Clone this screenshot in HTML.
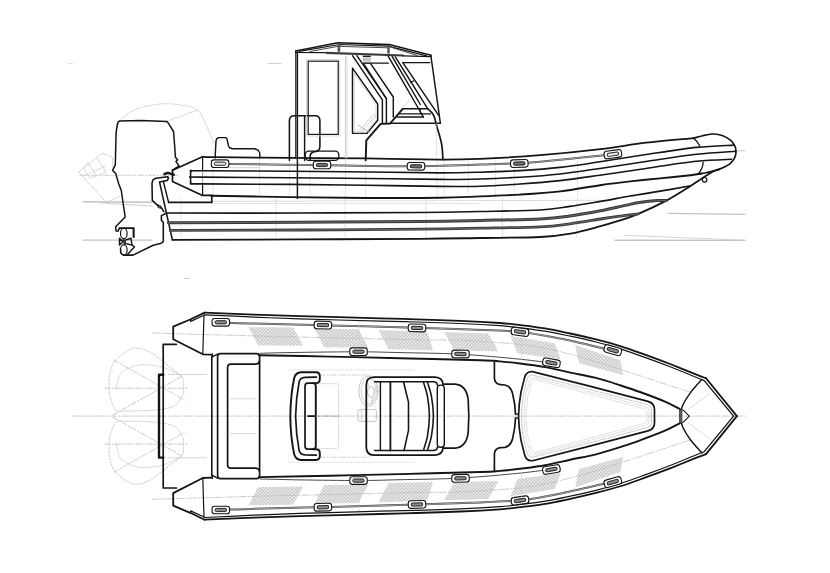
<!DOCTYPE html>
<html><head><meta charset="utf-8"><style>
html,body{margin:0;padding:0;background:#fff;}
body{width:830px;height:573px;overflow:hidden;font-family:"Liberation Sans",sans-serif;}
svg{display:block}
svg path, svg ellipse, svg circle{fill:none;stroke-linecap:round;stroke-linejoin:round}
</style></head><body>
<svg width="830" height="573" viewBox="0 0 830 573">
<rect width="830" height="573" fill="#fff" stroke="none"/>
<path d="M83.0,201.8 L152.0,202.2" stroke="#c4c4c4" stroke-width="1.6" />
<path d="M100.0,203.0 L152.0,206.0" stroke="#cfcfcf" stroke-width="1.0" />
<path d="M83.0,240.2 L152.0,240.2" stroke="#c4c4c4" stroke-width="1.2" />
<path d="M668.0,213.3 L745.0,214.4" stroke="#c4c4c4" stroke-width="1.2" />
<path d="M615.0,240.2 L745.0,240.4" stroke="#c4c4c4" stroke-width="1.4" />
<path d="M624.0,235.3 L745.0,240.2" stroke="#cfcfcf" stroke-width="0.9" />
<path d="M737.6,150.8 L744.6,150.8" stroke="#c4c4c4" stroke-width="1.0" />
<path d="M80.0,175.3 L180.0,175.3" stroke="#c8c8c8" stroke-width="0.9" stroke-dasharray="6 2 1.5 2"/>
<path d="M120.2,120.1 C122.9,118.2 129.6,111.7 136.3,109.0 C143.0,106.3 153.0,104.7 160.4,104.0 C167.8,103.3 174.3,104.0 180.5,105.0 C186.7,106.0 193.2,106.5 197.5,110.0 C201.8,113.5 203.8,120.3 206.6,126.0 C209.4,131.7 213.3,141.2 214.6,144.2" stroke="#c4c4c4" stroke-width="0.9" stroke-dasharray="1.2 1.6"/>
<path d="M167.4,121.0 L197.5,110.1" stroke="#c4c4c4" stroke-width="0.9" stroke-dasharray="1.2 1.6"/>
<path d="M79.0,172.3 L106.2,202.4 L120.2,196.4" stroke="#c4c4c4" stroke-width="0.9" stroke-dasharray="1.2 1.6"/>
<path d="M79.0,172.3 L98.1,156.3 L102.1,153.2 L112.2,157.3 L113.0,168.0" stroke="#c4c4c4" stroke-width="0.9" stroke-dasharray="1.2 1.6"/>
<path d="M84.0,176.0 L106.0,166.0" stroke="#cfcfcf" stroke-width="0.8" />
<path d="M88.0,163.0 L97.0,176.0 L90.0,178.0 L83.0,168.0 L88.0,163.0" stroke="#cfcfcf" stroke-width="0.8" />
<path d="M97.0,158.0 L106.0,172.0 L99.0,175.0" stroke="#cfcfcf" stroke-width="0.8" />
<path d="M213.0,160.0 L213.0,197.0" stroke="#cccccc" stroke-width="0.7" stroke-dasharray="1.2 1.6"/>
<path d="M259.5,160.0 L259.5,197.0" stroke="#cccccc" stroke-width="0.7" stroke-dasharray="1.2 1.6"/>
<path d="M289.5,160.0 L289.5,197.0" stroke="#cccccc" stroke-width="0.7" stroke-dasharray="1.2 1.6"/>
<path d="M310.0,160.0 L310.0,197.0" stroke="#cccccc" stroke-width="0.7" stroke-dasharray="1.2 1.6"/>
<path d="M345.5,160.0 L345.5,197.0" stroke="#cccccc" stroke-width="0.7" stroke-dasharray="1.2 1.6"/>
<path d="M365.5,160.0 L365.5,197.0" stroke="#cccccc" stroke-width="0.7" stroke-dasharray="1.2 1.6"/>
<path d="M437.0,160.0 L437.0,197.0" stroke="#cccccc" stroke-width="0.7" stroke-dasharray="1.2 1.6"/>
<path d="M444.2,160.0 L444.2,197.0" stroke="#cccccc" stroke-width="0.7" stroke-dasharray="1.2 1.6"/>
<path d="M468.3,160.0 L468.3,197.0" stroke="#cccccc" stroke-width="0.7" stroke-dasharray="1.2 1.6"/>
<path d="M495.4,160.0 L495.4,197.0" stroke="#cccccc" stroke-width="0.7" stroke-dasharray="1.2 1.6"/>
<path d="M514.5,160.0 L514.5,197.0" stroke="#cccccc" stroke-width="0.7" stroke-dasharray="1.2 1.6"/>
<path d="M577.5,160.0 L577.5,197.0" stroke="#cccccc" stroke-width="0.7" stroke-dasharray="1.2 1.6"/>
<path d="M181.0,199.0 L181.0,238.0" stroke="#cccccc" stroke-width="0.7" stroke-dasharray="1.2 1.6"/>
<path d="M276.0,199.0 L276.0,238.0" stroke="#cccccc" stroke-width="0.7" stroke-dasharray="1.2 1.6"/>
<path d="M345.0,199.0 L345.0,238.0" stroke="#cccccc" stroke-width="0.7" stroke-dasharray="1.2 1.6"/>
<path d="M426.0,199.0 L426.0,238.0" stroke="#cccccc" stroke-width="0.7" stroke-dasharray="1.2 1.6"/>
<path d="M502.5,199.0 L502.5,238.0" stroke="#cccccc" stroke-width="0.7" stroke-dasharray="1.2 1.6"/>
<path d="M577.0,199.0 L577.0,238.0" stroke="#cccccc" stroke-width="0.7" stroke-dasharray="1.2 1.6"/>
<path d="M213.0,201.3 L600.0,200.3" stroke="#c6c6c6" stroke-width="0.8" stroke-dasharray="1.4 1.4"/>
<path d="M213.0,203.5 L480.0,203.5" stroke="#d0d0d0" stroke-width="0.7" stroke-dasharray="1.4 1.4"/>
<path d="M117.5,124.0 L118.2,121.8 L119.6,121.0 L141.5,120.5 L166.6,121.4 L168.5,123.3 L173.5,131.5 L174.6,145.0 L175.4,157.2 L177.6,159.7 L176.0,161.6 L179.1,166.0 L172.6,170.1" stroke="#151515" stroke-width="1.5" />
<path d="M117.5,124.0 L116.1,132.1 L115.3,164.8 L112.6,170.4 L115.7,173.6 L118.8,184.0 L121.3,190.5 L123.3,204.5 L125.2,217.0 L115.6,226.7 L116.1,231.0 L118.0,231.2 L119.5,228.1" stroke="#151515" stroke-width="1.5" />
<path d="M119.5,228.1 L133.9,228.1 L133.9,237.2" stroke="#151515" stroke-width="1.56" />
<path d="M133.2,228.5 L133.2,237.2" stroke="#151515" stroke-width="1.2" />
<ellipse cx="123.8" cy="233.4" rx="3.3" ry="5.2" stroke="#151515" stroke-width="1.2"/>
<ellipse cx="123.8" cy="249.9" rx="3.3" ry="5.2" stroke="#151515" stroke-width="1.2"/>
<path d="M119.5,238.3 L122.9,241.7 L119.5,245.0 L119.5,238.3" stroke="#151515" stroke-width="1.44" />
<path d="M124.8,240.2 L131.0,238.3 L132.0,245.0 L125.7,243.6 L124.8,240.2" stroke="#151515" stroke-width="1.44" />
<path d="M123.0,238.6 L124.6,244.6" stroke="#151515" stroke-width="1.2" />
<path d="M132.0,245.0 L134.4,246.9 L127.7,254.2" stroke="#151515" stroke-width="1.44" />
<path d="M120.5,249.0 C120.6,249.7 120.5,252.2 121.0,253.2 C121.5,254.2 123.3,254.8 123.8,255.1" stroke="#151515" stroke-width="1.44" />
<path d="M123.8,255.1 L133.0,255.1 L153.2,245.2 L160.4,243.6 L162.6,242.4 L163.3,240.7 L163.3,222.3 L161.4,220.4 L161.4,215.6 L165.2,213.7" stroke="#151515" stroke-width="1.56" />
<path d="M167.5,176.7 L156.0,178.2 L153.2,179.6 L152.0,183.0 L152.3,200.4 L156.5,204.4 L160.5,206.4 L163.8,211.6" stroke="#151515" stroke-width="1.56" />
<path d="M167.5,176.7 L168.6,178.2 L167.2,180.5 L159.5,181.9 L172.4,239.8" stroke="#151515" stroke-width="1.56" />
<path d="M163.3,181.4 L168.6,202.4" stroke="#151515" stroke-width="1.44" />
<path d="M156.8,204.5 L158.5,207.5 L161.5,208.3" stroke="#151515" stroke-width="1.2" />
<path d="M164.5,174.0 L168.0,172.8 L173.8,174.7" stroke="#151515" stroke-width="2.4" />
<path d="M202.5,156.8 C204.6,156.9 200.4,157.0 215.0,157.2 C229.6,157.4 264.8,157.6 290.0,157.8 C315.2,158.0 341.0,158.1 366.0,158.4 C391.0,158.7 421.0,159.5 440.0,159.6 C459.0,159.7 463.3,159.5 480.0,158.8 C496.7,158.1 520.1,156.8 540.2,155.2 C560.3,153.6 582.9,151.3 600.5,149.2 C618.1,147.1 630.5,144.5 646.0,142.7 C661.5,140.8 685.5,138.9 693.4,138.1" stroke="#151515" stroke-width="1.8" />
<path d="M172.5,170.2 L202.5,156.8" stroke="#151515" stroke-width="1.68" />
<path d="M172.5,170.2 L172.5,181.6 L202.0,195.2" stroke="#151515" stroke-width="1.68" />
<path d="M202.6,156.8 L202.6,170.4" stroke="#151515" stroke-width="1.2" />
<path d="M202.6,183.9 L202.6,195.2" stroke="#151515" stroke-width="1.2" />
<path d="M202.6,170.4 L202.6,183.9" stroke="#9a9a9a" stroke-width="0.9" />
<path d="M202.0,195.3 L211.8,195.3 L211.8,202.4 L168.6,202.4" stroke="#151515" stroke-width="1.68" />
<path d="M228.0,164.0 C242.2,164.2 283.2,164.6 313.0,165.0 C342.8,165.4 379.2,166.4 407.0,166.3 C434.8,166.2 462.8,165.1 480.0,164.6 C497.2,164.1 500.0,164.1 510.0,163.6 C520.0,163.1 524.3,163.1 540.0,161.7 C555.7,160.3 593.3,156.3 604.0,155.2" stroke="#4a4a4a" stroke-width="2.0" />
<path d="M228.0,164.0 C242.2,164.2 283.2,164.6 313.0,165.0 C342.8,165.4 379.2,166.4 407.0,166.3 C434.8,166.2 462.8,165.1 480.0,164.6 C497.2,164.1 500.0,164.1 510.0,163.6 C520.0,163.1 524.3,163.1 540.0,161.7 C555.7,160.3 593.3,156.3 604.0,155.2" stroke="#c4c4c4" stroke-width="0.7" />
<path d="M190.6,172.0 C190.7,171.8 190.7,171.2 190.9,171.0 C191.1,170.8 190.5,170.7 192.0,170.6 C193.5,170.5 183.7,170.6 200.0,170.7 C216.3,170.8 262.3,171.0 290.0,171.2 C317.7,171.4 341.0,171.7 366.0,172.0 C391.0,172.3 421.0,172.9 440.0,172.9 C459.0,172.9 466.7,172.6 480.0,172.2 C493.3,171.8 506.7,171.4 520.0,170.6 C533.3,169.8 546.7,168.9 560.0,167.4 C573.3,165.9 585.7,163.9 600.0,161.8 C614.3,159.7 629.9,157.0 646.0,154.6 C662.1,152.2 681.8,149.0 696.4,147.4 C711.0,145.8 727.6,145.5 733.8,145.1" stroke="#151515" stroke-width="1.56" />
<path d="M190.6,176.9 C192.2,176.9 183.4,176.9 200.0,177.1 C216.6,177.2 262.3,177.6 290.0,177.8 C317.7,178.0 341.0,178.2 366.0,178.5 C391.0,178.8 421.0,179.3 440.0,179.4 C459.0,179.5 466.7,179.4 480.0,179.0 C493.3,178.6 506.7,178.0 520.0,177.2 C533.3,176.4 546.7,175.5 560.0,174.0 C573.3,172.5 585.7,170.5 600.0,168.4 C614.3,166.3 629.9,163.8 646.0,161.4 C662.1,159.1 681.5,156.0 696.4,154.3 C711.3,152.6 729.1,151.7 735.6,151.2" stroke="#151515" stroke-width="1.56" />
<path d="M190.6,182.4 C190.7,182.6 190.7,183.2 190.9,183.4 C191.1,183.6 190.5,183.7 192.0,183.8 C193.5,183.9 183.7,183.8 200.0,183.9 C216.3,184.0 262.3,184.2 290.0,184.4 C317.7,184.6 341.0,185.0 366.0,185.3 C391.0,185.6 421.0,186.2 440.0,186.4 C459.0,186.6 466.7,186.6 480.0,186.2 C493.3,185.8 506.7,184.9 520.0,184.0 C533.3,183.1 546.7,182.1 560.0,180.6 C573.3,179.1 585.7,177.2 600.0,175.2 C614.3,173.2 629.9,170.7 646.0,168.4 C662.1,166.1 682.1,162.8 696.4,161.3 C710.6,159.8 725.6,159.5 731.5,159.2" stroke="#151515" stroke-width="1.56" />
<path d="M190.6,171.6 L190.6,182.8" stroke="#151515" stroke-width="1.56" />
<path d="M211.0,195.8 C224.2,196.0 264.2,196.7 290.0,197.1 C315.8,197.5 341.0,197.9 366.0,198.0 C391.0,198.1 421.0,198.1 440.0,197.8 C459.0,197.5 466.7,196.9 480.0,196.4 C493.3,195.9 506.6,195.4 520.0,194.6 C533.4,193.8 547.0,193.0 560.3,191.4 C573.6,189.8 588.4,186.9 600.0,185.2 C611.6,183.5 620.2,182.5 630.2,181.4 C640.2,180.3 650.0,179.4 660.0,178.4 C670.0,177.4 683.6,176.0 690.5,175.2 C697.4,174.4 699.7,173.7 701.5,173.4" stroke="#151515" stroke-width="1.92" />
<path d="M693.3,138.2 C694.9,137.8 699.2,136.4 702.7,135.7 C706.2,135.0 710.6,134.0 714.0,134.0 C717.4,134.0 720.1,134.7 722.8,135.7 C725.5,136.7 728.4,138.4 730.4,140.1 C732.4,141.8 733.8,143.8 734.7,145.7 C735.6,147.6 736.0,149.4 736.0,151.4 C736.0,153.4 735.6,155.7 734.7,157.7 C733.8,159.7 732.4,161.6 730.4,163.3 C728.4,165.0 725.5,166.4 722.8,167.7 C720.1,169.0 716.8,170.1 714.0,170.9 C711.2,171.8 708.5,172.3 706.0,172.8 C703.5,173.3 700.1,173.8 698.9,174.0" stroke="#151515" stroke-width="1.68" />
<path d="M693.3,138.2 C693.9,138.8 696.0,140.4 697.0,141.6 C698.0,142.8 699.2,144.9 699.6,145.6" stroke="#151515" stroke-width="1.32" />
<path d="M703.2,162.4 C703.1,163.1 702.8,165.3 702.4,166.6 C702.0,167.9 701.5,169.0 700.8,170.2 C700.1,171.4 698.8,173.4 698.4,174.0" stroke="#151515" stroke-width="1.32" />
<g transform="translate(220.1,163.7) rotate(0)"><rect x="-8.75" y="-3.8" width="17.5" height="7.6" rx="2.6" stroke="#151515" stroke-width="1.1" fill="#fff"/><rect x="-5.75" y="-1.5999999999999996" width="11.5" height="3.1999999999999993" rx="1.5" stroke="#262626" stroke-width="1.0" fill="#e4e4e4"/></g>
<g transform="translate(322.0,165.0) rotate(0)"><rect x="-8.75" y="-3.8" width="17.5" height="7.6" rx="2.6" stroke="#151515" stroke-width="1.1" fill="#fff"/><rect x="-5.75" y="-1.5999999999999996" width="11.5" height="3.1999999999999993" rx="1.5" stroke="#262626" stroke-width="1.0" fill="#6e6e6e"/></g>
<g transform="translate(416.0,166.3) rotate(0.5)"><rect x="-8.75" y="-3.8" width="17.5" height="7.6" rx="2.6" stroke="#151515" stroke-width="1.1" fill="#fff"/><rect x="-5.75" y="-1.5999999999999996" width="11.5" height="3.1999999999999993" rx="1.5" stroke="#262626" stroke-width="1.0" fill="#6e6e6e"/></g>
<g transform="translate(519.3,163.5) rotate(-2)"><rect x="-8.75" y="-3.8" width="17.5" height="7.6" rx="2.6" stroke="#151515" stroke-width="1.1" fill="#fff"/><rect x="-5.75" y="-1.5999999999999996" width="11.5" height="3.1999999999999993" rx="1.5" stroke="#262626" stroke-width="1.0" fill="#6e6e6e"/></g>
<g transform="translate(612.9,154.2) rotate(-8)"><rect x="-8.75" y="-3.8" width="17.5" height="7.6" rx="2.6" stroke="#151515" stroke-width="1.1" fill="#fff"/><rect x="-5.75" y="-1.5999999999999996" width="11.5" height="3.1999999999999993" rx="1.5" stroke="#262626" stroke-width="1.0" fill="#e4e4e4"/></g>
<path d="M172.4,239.8 C193.7,239.7 258.7,239.6 300.0,239.4 C341.3,239.2 390.0,239.0 420.0,238.8 C450.0,238.6 460.0,238.3 480.0,238.0 C500.0,237.7 525.1,237.7 540.2,237.0 C555.3,236.3 560.4,235.4 570.4,233.6 C580.4,231.8 592.2,228.4 600.5,226.2 C608.8,224.0 613.7,222.4 620.0,220.4 C626.3,218.4 630.6,217.2 638.3,213.9 C646.0,210.6 657.7,205.2 666.4,200.6 C675.1,195.9 684.6,189.7 690.5,186.0 C696.4,182.3 697.9,181.0 701.5,178.7 C705.1,176.4 709.1,173.6 712.1,172.0 C715.1,170.4 718.0,169.8 719.2,169.4" stroke="#151515" stroke-width="1.8" />
<path d="M166.2,213.0 C188.5,213.0 257.7,213.1 300.0,213.0 C342.3,212.9 390.0,212.8 420.0,212.5 C450.0,212.2 460.0,211.9 480.0,211.5 C500.0,211.1 525.2,210.8 540.2,210.0 C555.2,209.2 560.0,207.8 570.0,206.4 C580.0,205.0 590.5,203.1 600.5,201.4 C610.5,199.7 620.3,197.7 630.2,196.0 C640.1,194.3 650.1,192.9 660.0,191.2 C669.9,189.5 684.6,186.9 689.5,186.0" stroke="#151515" stroke-width="1.68" />
<path d="M168.4,222.8 C190.3,222.7 258.1,222.4 300.0,222.2 C341.9,222.0 390.0,221.7 420.0,221.4 C450.0,221.1 460.0,220.8 480.0,220.4 C500.0,220.0 525.0,219.7 540.0,219.0 C555.0,218.3 559.9,217.4 570.0,216.0 C580.1,214.6 590.5,212.7 600.5,210.8 C610.5,208.9 622.4,205.9 630.0,204.4 C637.6,202.9 641.6,202.2 646.3,201.6 C651.0,201.0 654.6,200.8 658.0,200.6 C661.4,200.4 665.0,200.6 666.4,200.6" stroke="#383838" stroke-width="3.0" />
<path d="M168.4,222.8 C190.3,222.7 258.1,222.4 300.0,222.2 C341.9,222.0 390.0,221.7 420.0,221.4 C450.0,221.1 460.0,220.8 480.0,220.4 C500.0,220.0 525.0,219.7 540.0,219.0 C555.0,218.3 559.9,217.4 570.0,216.0 C580.1,214.6 590.5,212.7 600.5,210.8 C610.5,208.9 622.4,205.9 630.0,204.4 C637.6,202.9 641.6,202.2 646.3,201.6 C651.0,201.0 654.6,200.8 658.0,200.6 C661.4,200.4 665.0,200.6 666.4,200.6" stroke="#777" stroke-width="0.7" />
<path d="M170.2,230.4 C191.8,230.3 258.4,230.2 300.0,230.0 C341.6,229.8 390.0,229.5 420.0,229.2 C450.0,228.9 460.0,228.6 480.0,228.2 C500.0,227.8 525.0,227.5 540.0,226.8 C555.0,226.1 559.9,225.1 570.0,223.8 C580.1,222.5 592.2,220.3 600.5,219.0 C608.8,217.7 613.7,217.0 620.0,216.2 C626.3,215.3 635.2,214.3 638.3,213.9" stroke="#383838" stroke-width="2.8" />
<path d="M170.2,230.4 C191.8,230.3 258.4,230.2 300.0,230.0 C341.6,229.8 390.0,229.5 420.0,229.2 C450.0,228.9 460.0,228.6 480.0,228.2 C500.0,227.8 525.0,227.5 540.0,226.8 C555.0,226.1 559.9,225.1 570.0,223.8 C580.1,222.5 592.2,220.3 600.5,219.0 C608.8,217.7 613.7,217.0 620.0,216.2 C626.3,215.3 635.2,214.3 638.3,213.9" stroke="#777" stroke-width="0.7" />
<circle cx="704.6" cy="179.8" r="2.3" stroke="#151515" stroke-width="1.2" fill="#fff"/>
<path d="M215.1,158.0 L216.0,141.0 L216.8,138.6 L218.6,137.6 L225.6,137.6 L227.0,138.8 L228.4,145.5 L229.6,147.8 L232.3,148.8 L254.5,148.8 L258.0,150.0 L259.8,153.0 L259.8,158.0" stroke="#151515" stroke-width="1.44" />
<path d="M289.4,160.4 L289.4,120.5 Q289.4,115.7 294.2,115.7 L315,115.7 Q319.9,115.7 319.9,120.5 L319.9,146.5 Q319.9,150.6 316,151.4 L313.3,152.1 Q310.2,153 310.2,156 L310.2,160.3" stroke="#151515" stroke-width="1.56" />
<path d="M297.4,52.0 L297.4,198.4" stroke="#151515" stroke-width="1.44" />
<path d="M304.6,116.0 L304.6,160.6" stroke="#151515" stroke-width="1.44" />
<rect x="305.2" y="151.2" width="33.6" height="9.2" rx="3.6" stroke="#151515" stroke-width="1.3" fill="none"/>
<path d="M295.8,52.0 L295.8,158.0" stroke="#151515" stroke-width="1.2" />
<path d="M295.7,51.1 L337.8,42.8 L389.4,44.6 L430.9,55.2" stroke="#151515" stroke-width="1.56" />
<path d="M299.2,51.3 L339.5,44.5 L388.2,46.1 L426.5,55.9" stroke="#151515" stroke-width="1.2" />
<path d="M310.1,51.5 L337.8,46.4" stroke="#333" stroke-width="0.9" />
<path d="M391.0,47.2 L417.0,55.4" stroke="#333" stroke-width="0.9" />
<path d="M340.4,46.4 L387.4,47.8" stroke="#333" stroke-width="0.9" />
<rect x="337.6" y="43.2" width="2.6" height="8.6" fill="#555" stroke="none"/>
<rect x="387.3" y="45.0" width="2.4" height="8.6" fill="#555" stroke="none"/>
<path d="M295.7,51.1 L295.7,52.4 L326.5,52.7" stroke="#151515" stroke-width="1.32" />
<path d="M326.5,52.8 L402.8,55.5" stroke="#3c3c3c" stroke-width="2.2" />
<path d="M402.8,55.8 L431.0,56.6 L430.9,55.2" stroke="#151515" stroke-width="1.32" />
<rect x="308.2" y="61.2" width="30" height="73.2" stroke="#1a1a1a" stroke-width="1.2" fill="none"/>
<rect x="306.6" y="59.6" width="33.2" height="76.4" stroke="#d0d0d0" stroke-width="0.8" fill="none"/>
<path d="M345.4,56.0 L345.4,158.0" stroke="#c8c8c8" stroke-width="0.9" />
<path d="M347.0,56.0 L347.0,158.0" stroke="#d4d4d4" stroke-width="0.9" />
<path d="M352.5,68.2 L352.5,133.4 L367.0,133.4 L377.7,120.2 L377.7,104.0 L352.5,68.2" stroke="#151515" stroke-width="1.44" />
<path d="M354.2,73.6 L354.2,131.8 L366.2,131.8 L376.0,119.8 L376.0,105.0 L354.2,73.6" stroke="#cfcfcf" stroke-width="0.8" />
<path d="M352.5,55.7 L382.4,99.8 L382.4,123.6" stroke="#151515" stroke-width="1.44" />
<path d="M356.9,55.7 L386.4,98.6 L386.4,123.5" stroke="#151515" stroke-width="1.44" />
<path d="M363.8,63.8 L386.4,98.6" stroke="#151515" stroke-width="1.32" />
<path d="M370.8,63.8 L393.3,97.0 L393.3,117.0" stroke="#151515" stroke-width="1.44" />
<rect x="362.8" y="55.6" width="8" height="1.5" fill="#222" stroke="none"/>
<rect x="362.8" y="57.6" width="8" height="4" fill="#c4c4c4" stroke="none"/>
<rect x="362.8" y="62.4" width="8" height="1.5" fill="#222" stroke="none"/>
<path d="M370.8,63.2 L388.4,63.2" stroke="#151515" stroke-width="1.32" />
<path d="M388.3,56.3 L423.4,117.0" stroke="#151515" stroke-width="1.44" />
<path d="M392.1,56.3 L420.3,104.5" stroke="#151515" stroke-width="1.44" />
<path d="M395.3,56.9 L427.8,108.8" stroke="#151515" stroke-width="1.44" />
<path d="M410.6,82.4 L414.0,80.8" stroke="#151515" stroke-width="1.2" />
<path d="M402.8,62.6 L429.8,62.6" stroke="#151515" stroke-width="1.32" />
<path d="M402.8,62.6 L438.5,115.1" stroke="#151515" stroke-width="1.44" />
<path d="M431.0,56.6 L440.4,123.3" stroke="#151515" stroke-width="1.44" />
<path d="M427.8,108.8 C428.8,109.8 431.9,111.9 433.5,115.1 C435.1,118.2 435.8,122.9 437.2,127.7 C438.6,132.5 440.7,138.7 441.6,144.0 C442.6,149.3 442.7,157.0 442.9,159.6" stroke="#151515" stroke-width="1.68" />
<path d="M402.7,108.8 L427.8,108.8" stroke="#151515" stroke-width="1.56" />
<path d="M399.5,113.9 L430.3,113.9" stroke="#151515" stroke-width="1.44" />
<path d="M397.0,117.0 L423.4,117.0" stroke="#151515" stroke-width="1.44" />
<path d="M390.1,123.3 L440.4,123.3" stroke="#151515" stroke-width="1.56" />
<path d="M420.3,108.8 L420.3,113.9" stroke="#151515" stroke-width="0.9" />
<path d="M365.7,160.3 L366.3,140.3 L380.7,123.9 L390.1,123.5 L402.7,108.8" stroke="#151515" stroke-width="1.92" />
<path d="M401.4,108.8 L410.2,99.4" stroke="#cccccc" stroke-width="0.8" />
<path d="M436.6,123.5 L436.6,158.0" stroke="#cccccc" stroke-width="0.7" stroke-dasharray="1.2 1.6"/>
<path d="M358.0,125.0 L369.0,132.0" stroke="#aaaaaa" stroke-width="0.9" />
<path d="M357.0,133.0 L374.5,113.5" stroke="#c4c4c4" stroke-width="0.8" />
<path d="M360.0,133.2 L376.0,115.5" stroke="#c4c4c4" stroke-width="0.8" />
<path d="M229.3,167.7 L259.4,167.7" stroke="#bbbbbb" stroke-width="0.8" stroke-dasharray="1.3 1.3"/>
<path d="M268.0,63.5 L281.0,63.5" stroke="#cccccc" stroke-width="1.0" />
<path d="M68.5,63.5 L72.5,63.5" stroke="#dddddd" stroke-width="0.9" />
<path d="M184.0,278.5 L189.0,278.5" stroke="#cccccc" stroke-width="0.9" />
<path d="M72.0,416.1 L746.0,416.1" stroke="#c4c4c4" stroke-width="0.9" stroke-dasharray="7 2 1.5 2"/>
<path d="M320.2,375.1 L370.4,375.1" stroke="#c9c9c9" stroke-width="0.8" stroke-dasharray="5 2 1.5 2"/>
<path d="M320.2,457.2 L370.4,457.2" stroke="#c9c9c9" stroke-width="0.8" stroke-dasharray="5 2 1.5 2"/>
<path d="M688.3,409.2 L710.4,393.1" stroke="#cfcfcf" stroke-width="0.7" />
<path d="M688.3,423.1 L710.4,439.2" stroke="#cfcfcf" stroke-width="0.7" />
<path d="M109.0,380.0 C109.5,377.7 110.5,369.7 112.0,366.0 C113.5,362.3 115.5,360.5 118.0,358.0 C120.5,355.5 124.0,352.7 127.0,351.0 C130.0,349.3 132.2,347.8 136.0,348.0 C139.8,348.2 145.7,349.8 150.0,352.0 C154.3,354.2 157.8,357.8 162.0,361.0 C166.2,364.2 171.6,368.3 175.0,371.0 C178.4,373.7 181.0,374.5 182.4,377.0 C183.8,379.5 183.6,382.8 183.6,386.0 C183.6,389.2 184.0,392.7 182.4,396.0 C180.8,399.3 178.4,403.7 174.0,406.0 C169.6,408.3 163.7,409.2 156.0,410.0 C148.3,410.8 134.7,411.0 128.0,411.0 C121.3,411.0 119.0,412.5 116.0,410.0 C113.0,407.5 111.2,401.0 110.0,396.0 C108.8,391.0 109.2,382.7 109.0,380.0" stroke="#c2c2c2" stroke-width="0.9" stroke-dasharray="1.4 1.6"/>
<path d="M109.0,452.3 C109.5,454.6 110.5,462.6 112.0,466.3 C113.5,470.0 115.5,471.8 118.0,474.3 C120.5,476.8 124.0,479.6 127.0,481.3 C130.0,483.0 132.2,484.5 136.0,484.3 C139.8,484.1 145.7,482.5 150.0,480.3 C154.3,478.1 157.8,474.5 162.0,471.3 C166.2,468.1 171.6,464.0 175.0,461.3 C178.4,458.6 181.0,457.8 182.4,455.3 C183.8,452.8 183.6,449.5 183.6,446.3 C183.6,443.1 184.0,439.6 182.4,436.3 C180.8,433.0 178.4,428.6 174.0,426.3 C169.6,424.0 163.7,423.1 156.0,422.3 C148.3,421.5 134.7,421.3 128.0,421.3 C121.3,421.3 119.0,419.8 116.0,422.3 C113.0,424.8 111.2,431.3 110.0,436.3 C108.8,441.3 109.2,449.6 109.0,452.3" stroke="#c2c2c2" stroke-width="0.9" stroke-dasharray="1.4 1.6"/>
<path d="M116.0,388.0 C116.5,386.2 117.5,380.0 119.0,377.0 C120.5,374.0 121.5,372.0 125.0,370.0 C128.5,368.0 133.8,365.5 140.0,365.0 C146.2,364.5 155.0,365.2 162.0,367.0 C169.0,368.8 178.7,374.5 182.0,376.0" stroke="#c6c6c6" stroke-width="0.9" stroke-dasharray="1.4 1.6"/>
<path d="M116.0,444.3 C116.5,446.1 117.5,452.3 119.0,455.3 C120.5,458.3 121.5,460.3 125.0,462.3 C128.5,464.3 133.8,466.8 140.0,467.3 C146.2,467.8 155.0,467.1 162.0,465.3 C169.0,463.5 178.7,457.8 182.0,456.3" stroke="#c6c6c6" stroke-width="0.9" stroke-dasharray="1.4 1.6"/>
<path d="M105.0,388.2 L188.4,388.2" stroke="#c2c2c2" stroke-width="0.9" stroke-dasharray="5 2 1.5 2"/>
<path d="M105.0,444.1 L188.4,444.1" stroke="#c2c2c2" stroke-width="0.9" stroke-dasharray="5 2 1.5 2"/>
<path d="M114.0,360.0 L184.4,400.0" stroke="#c6c6c6" stroke-width="0.9" stroke-dasharray="5 2 1.5 2"/>
<path d="M114.0,472.3 L184.4,432.3" stroke="#c6c6c6" stroke-width="0.9" stroke-dasharray="5 2 1.5 2"/>
<path d="M113.0,415.0 L182.4,376.0" stroke="#c2c2c2" stroke-width="0.9" stroke-dasharray="5 2 1.5 2"/>
<path d="M113.0,417.3 L182.4,456.3" stroke="#c2c2c2" stroke-width="0.9" stroke-dasharray="5 2 1.5 2"/>
<path d="M168.3,374.5 L206.5,374.5" stroke="#c6c6c6" stroke-width="0.9" stroke-dasharray="1.4 1.3"/>
<path d="M168.3,457.8 L206.5,457.8" stroke="#c6c6c6" stroke-width="0.9" stroke-dasharray="1.4 1.3"/>
<path d="M230.6,398.8 L256.0,398.8" stroke="#cccccc" stroke-width="0.9" stroke-dasharray="1.4 1.3"/>
<path d="M230.6,433.5 L256.0,433.5" stroke="#cccccc" stroke-width="0.9" stroke-dasharray="1.4 1.3"/>
<defs><pattern id="hx" width="2.4" height="2.4" patternUnits="userSpaceOnUse" patternTransform="rotate(45)"><rect width="2.4" height="2.4" fill="#ececec"/><path d="M0,0 L2.4,0 M0,0 L0,2.4" stroke="#b0b0b0" stroke-width="0.8"/></pattern></defs>
<polygon points="248.6,327.1 293.2,327.6 303.2,345.8 258.0,345.2" fill="url(#hx)" stroke="none"/>
<polygon points="248.6,505.2 293.2,504.7 303.2,486.5 258.0,487.1" fill="url(#hx)" stroke="none"/>
<polygon points="314.3,328.6 358.4,329.2 368.5,347.8 324.3,347.2" fill="url(#hx)" stroke="none"/>
<polygon points="314.3,503.7 358.4,503.1 368.5,484.5 324.3,485.1" fill="url(#hx)" stroke="none"/>
<polygon points="378.5,330.1 427.1,331.6 433.1,350.2 388.6,349.2" fill="url(#hx)" stroke="none"/>
<polygon points="378.5,502.2 427.1,500.7 433.1,482.1 388.6,483.1" fill="url(#hx)" stroke="none"/>
<polygon points="444.2,332.1 488.4,333.4 498.4,351.4 454.2,350.2" fill="url(#hx)" stroke="none"/>
<polygon points="444.2,500.2 488.4,498.9 498.4,480.9 454.2,482.1" fill="url(#hx)" stroke="none"/>
<polygon points="510.4,336.1 554.6,343.2 560.6,359.2 517.5,353.2" fill="url(#hx)" stroke="none"/>
<polygon points="510.4,496.2 554.6,489.1 560.6,473.1 517.5,479.1" fill="url(#hx)" stroke="none"/>
<polygon points="575.1,345.1 620.3,360.2 623.3,375.3 579.2,363.2" fill="url(#hx)" stroke="none"/>
<polygon points="575.1,487.2 620.3,472.1 623.3,457.0 579.2,469.1" fill="url(#hx)" stroke="none"/>
<path d="M152.0,333.0 C168.3,333.5 208.7,334.7 250.0,335.8 C291.3,336.9 361.7,338.5 400.0,339.4 C438.3,340.3 453.3,339.4 480.0,341.4 C506.7,343.4 524.9,343.1 560.0,351.6 C595.1,360.1 668.8,385.5 690.6,392.3" stroke="#bcbcbc" stroke-width="0.8" stroke-dasharray="7 2 1.5 2"/>
<path d="M152.0,499.3 C168.3,498.8 208.7,497.6 250.0,496.5 C291.3,495.4 361.7,493.8 400.0,492.9 C438.3,492.0 453.3,492.9 480.0,490.9 C506.7,488.9 524.9,489.2 560.0,480.7 C595.1,472.2 668.8,446.8 690.6,440.0" stroke="#bcbcbc" stroke-width="0.8" stroke-dasharray="7 2 1.5 2"/>
<path d="M204.6,312.6 C212.8,312.9 238.1,314.0 254.0,314.6 C269.9,315.2 279.0,315.5 300.0,316.1 C321.0,316.7 360.7,317.8 380.0,318.3 C399.3,318.8 402.6,318.9 416.0,319.3 C429.4,319.7 446.2,320.2 460.2,320.8 C474.2,321.4 489.9,322.3 500.0,323.0 C510.1,323.7 513.0,324.2 520.5,325.1 C528.0,326.0 536.7,327.0 545.0,328.4 C553.3,329.8 561.8,331.7 570.3,333.5 C578.8,335.3 587.5,337.3 596.0,339.4 C604.5,341.5 612.7,343.7 621.1,346.3 C629.5,348.9 637.9,352.1 646.3,355.1 C654.7,358.1 663.0,361.2 671.4,364.5 C679.8,367.8 690.7,372.3 696.5,374.6 C702.3,376.9 704.4,377.6 706.0,378.2" stroke="#151515" stroke-width="1.8" />
<path d="M204.6,519.7 C212.8,519.4 238.1,518.3 254.0,517.7 C269.9,517.1 279.0,516.8 300.0,516.2 C321.0,515.6 360.7,514.5 380.0,514.0 C399.3,513.5 402.6,513.4 416.0,513.0 C429.4,512.6 446.2,512.1 460.2,511.5 C474.2,510.9 489.9,510.0 500.0,509.3 C510.1,508.6 513.0,508.1 520.5,507.2 C528.0,506.3 536.7,505.3 545.0,503.9 C553.3,502.5 561.8,500.6 570.3,498.8 C578.8,497.0 587.5,495.0 596.0,492.9 C604.5,490.8 612.7,488.6 621.1,486.0 C629.5,483.4 637.9,480.2 646.3,477.2 C654.7,474.2 663.0,471.0 671.4,467.8 C679.8,464.5 690.7,460.0 696.5,457.7 C702.3,455.4 704.4,454.7 706.0,454.1" stroke="#151515" stroke-width="1.8" />
<path d="M204.6,314.8 C212.8,315.2 238.1,316.4 254.0,317.1 C269.9,317.8 279.0,318.2 300.0,318.9 C321.0,319.6 360.7,320.6 380.0,321.1 C399.3,321.6 402.6,321.6 416.0,322.0 C429.4,322.4 446.2,322.9 460.2,323.5 C474.2,324.1 489.9,325.0 500.0,325.7 C510.1,326.4 513.0,326.9 520.5,327.8 C528.0,328.7 536.7,329.7 545.0,331.1 C553.3,332.5 561.8,334.4 570.3,336.2 C578.8,338.0 587.5,339.9 596.0,342.0 C604.5,344.1 612.7,346.5 621.1,349.1 C629.5,351.8 637.9,354.9 646.3,357.9 C654.7,360.9 663.0,364.0 671.4,367.3 C679.8,370.6 691.5,375.4 696.5,377.5 C701.5,379.6 700.8,379.2 701.6,379.6" stroke="#151515" stroke-width="1.2" />
<path d="M204.6,517.5 C212.8,517.1 238.1,515.9 254.0,515.2 C269.9,514.5 279.0,514.1 300.0,513.4 C321.0,512.7 360.7,511.7 380.0,511.2 C399.3,510.7 402.6,510.7 416.0,510.3 C429.4,509.9 446.2,509.4 460.2,508.8 C474.2,508.2 489.9,507.3 500.0,506.6 C510.1,505.9 513.0,505.4 520.5,504.5 C528.0,503.6 536.7,502.6 545.0,501.2 C553.3,499.8 561.8,497.9 570.3,496.1 C578.8,494.3 587.5,492.4 596.0,490.3 C604.5,488.1 612.7,485.8 621.1,483.2 C629.5,480.5 637.9,477.4 646.3,474.4 C654.7,471.4 663.0,468.3 671.4,465.0 C679.8,461.7 691.5,456.8 696.5,454.8 C701.5,452.7 700.8,453.0 701.6,452.7" stroke="#151515" stroke-width="1.2" />
<path d="M706.0,378.2 L736.9,416.1" stroke="#151515" stroke-width="1.8" />
<path d="M706.0,454.1 L736.9,416.1" stroke="#151515" stroke-width="1.8" />
<path d="M701.6,379.6 L704.0,380.4 L733.6,416.1" stroke="#151515" stroke-width="1.32" />
<path d="M701.6,452.7 L704.0,451.9 L733.6,416.1" stroke="#151515" stroke-width="1.32" />
<path d="M204.6,312.6 L190.2,319.5 L173.2,326.6 L173.2,339.2 L202.8,354.3 L212.2,354.6" stroke="#151515" stroke-width="1.8" />
<path d="M204.6,519.7 L190.2,512.8 L173.2,505.7 L173.2,493.1 L202.8,478.0 L212.2,477.7" stroke="#151515" stroke-width="1.8" />
<path d="M190.2,319.5 L190.6,321.4 L204.6,315.0" stroke="#151515" stroke-width="1.2" />
<path d="M190.2,512.8 L190.6,510.9 L204.6,517.3" stroke="#151515" stroke-width="1.2" />
<path d="M204.0,315.1 L202.8,354.0" stroke="#151515" stroke-width="1.2" />
<path d="M204.0,517.2 L202.8,478.3" stroke="#151515" stroke-width="1.2" />
<path d="M229.0,322.8 C232.5,322.9 233.2,323.0 250.0,323.4 C266.8,323.8 302.3,324.7 330.0,325.4 C357.7,326.1 392.7,327.0 416.0,327.7 C439.3,328.4 452.7,328.9 470.0,329.6 C487.3,330.3 505.0,330.5 520.0,332.0 C535.0,333.5 545.8,335.8 560.0,338.6 C574.2,341.4 597.5,347.1 605.0,348.8" stroke="#4a4a4a" stroke-width="2.0" />
<path d="M229.0,509.5 C232.5,509.4 233.2,509.3 250.0,508.9 C266.8,508.5 302.3,507.6 330.0,506.9 C357.7,506.2 392.7,505.3 416.0,504.6 C439.3,503.9 452.7,503.4 470.0,502.7 C487.3,502.0 505.0,501.8 520.0,500.3 C535.0,498.8 545.8,496.5 560.0,493.7 C574.2,490.9 597.5,485.2 605.0,483.5" stroke="#4a4a4a" stroke-width="2.0" />
<path d="M229.0,322.8 C232.5,322.9 233.2,323.0 250.0,323.4 C266.8,323.8 302.3,324.7 330.0,325.4 C357.7,326.1 392.7,327.0 416.0,327.7 C439.3,328.4 452.7,328.9 470.0,329.6 C487.3,330.3 505.0,330.5 520.0,332.0 C535.0,333.5 545.8,335.8 560.0,338.6 C574.2,341.4 597.5,347.1 605.0,348.8" stroke="#c4c4c4" stroke-width="0.7" />
<path d="M229.0,509.5 C232.5,509.4 233.2,509.3 250.0,508.9 C266.8,508.5 302.3,507.6 330.0,506.9 C357.7,506.2 392.7,505.3 416.0,504.6 C439.3,503.9 452.7,503.4 470.0,502.7 C487.3,502.0 505.0,501.8 520.0,500.3 C535.0,498.8 545.8,496.5 560.0,493.7 C574.2,490.9 597.5,485.2 605.0,483.5" stroke="#c4c4c4" stroke-width="0.7" />
<path d="M260.0,353.3 C266.7,353.1 283.7,352.6 300.0,352.4 C316.3,352.1 341.3,351.8 358.0,351.8 C374.7,351.8 383.0,352.2 400.0,352.6 C417.0,353.0 440.0,353.1 460.0,354.2 C480.0,355.3 504.8,357.7 520.0,359.2 C535.2,360.7 545.8,362.5 551.0,363.2" stroke="#333" stroke-width="0.9" />
<path d="M260.0,479.0 C266.7,479.1 283.7,479.6 300.0,479.9 C316.3,480.1 341.3,480.5 358.0,480.5 C374.7,480.5 383.0,480.1 400.0,479.7 C417.0,479.3 440.0,479.2 460.0,478.1 C480.0,477.0 504.8,474.6 520.0,473.1 C535.2,471.6 545.8,469.8 551.0,469.1" stroke="#333" stroke-width="0.9" />
<path d="M259.0,355.2 C270.8,355.4 306.5,356.1 330.0,356.6 C353.5,357.1 374.9,357.6 400.0,358.2 C425.1,358.8 463.6,359.8 480.3,360.3 C497.0,360.8 493.4,360.9 500.0,361.4 C506.6,361.9 512.5,362.6 520.0,363.5 C527.5,364.4 536.7,365.6 545.1,367.1 C553.5,368.6 561.8,370.8 570.3,372.6 C578.8,374.4 587.7,375.8 596.0,377.9 C604.3,380.0 612.7,382.8 620.0,385.2 C627.3,387.6 632.5,389.3 640.0,392.0 C647.5,394.7 658.4,398.8 665.0,401.6 C671.6,404.4 677.3,407.8 679.8,409.0" stroke="#151515" stroke-width="1.92" />
<path d="M259.0,477.1 C270.8,476.9 306.5,476.2 330.0,475.7 C353.5,475.2 374.9,474.7 400.0,474.1 C425.1,473.5 463.6,472.5 480.3,472.0 C497.0,471.5 493.4,471.4 500.0,470.9 C506.6,470.4 512.5,469.7 520.0,468.8 C527.5,467.8 536.7,466.7 545.1,465.2 C553.5,463.7 561.8,461.5 570.3,459.7 C578.8,457.9 587.7,456.5 596.0,454.4 C604.3,452.3 612.7,449.4 620.0,447.1 C627.3,444.7 632.5,443.0 640.0,440.3 C647.5,437.6 658.4,433.5 665.0,430.7 C671.6,427.9 677.3,424.5 679.8,423.3" stroke="#151515" stroke-width="1.92" />
<path d="M701.6,379.6 C699.7,381.8 693.4,388.5 690.3,392.8 C687.1,397.1 684.4,401.4 682.7,405.3 C681.1,409.2 680.4,412.5 680.4,416.1 C680.4,419.8 681.1,423.1 682.7,427.0 C684.4,430.9 687.1,435.2 690.3,439.5 C693.4,443.8 699.7,450.5 701.6,452.7" stroke="#151515" stroke-width="1.44" />
<path d="M679.8,409.2 L683.6,410.4 L689.3,416.15 L683.6,421.9 L679.8,423.1 Z" stroke="#151515" stroke-width="1.1" fill="#fff"/>
<rect x="679.6" y="409.6" width="2.8" height="13.2" fill="#555" stroke="none"/>
<g transform="translate(220.8,322.3) rotate(0)"><rect x="-8.75" y="-3.8" width="17.5" height="7.6" rx="2.6" stroke="#151515" stroke-width="1.1" fill="#fff"/><rect x="-5.75" y="-1.5999999999999996" width="11.5" height="3.1999999999999993" rx="1.5" stroke="#262626" stroke-width="1.0" fill="#8c8c8c"/></g>
<g transform="translate(220.8,510.0) rotate(0)"><rect x="-8.75" y="-3.8" width="17.5" height="7.6" rx="2.6" stroke="#151515" stroke-width="1.1" fill="#fff"/><rect x="-5.75" y="-1.5999999999999996" width="11.5" height="3.1999999999999993" rx="1.5" stroke="#262626" stroke-width="1.0" fill="#8c8c8c"/></g>
<g transform="translate(322.9,325.1) rotate(1.5)"><rect x="-8.75" y="-3.8" width="17.5" height="7.6" rx="2.6" stroke="#151515" stroke-width="1.1" fill="#fff"/><rect x="-5.75" y="-1.5999999999999996" width="11.5" height="3.1999999999999993" rx="1.5" stroke="#262626" stroke-width="1.0" fill="#8c8c8c"/></g>
<g transform="translate(322.9,507.2) rotate(-1.5)"><rect x="-8.75" y="-3.8" width="17.5" height="7.6" rx="2.6" stroke="#151515" stroke-width="1.1" fill="#fff"/><rect x="-5.75" y="-1.5999999999999996" width="11.5" height="3.1999999999999993" rx="1.5" stroke="#262626" stroke-width="1.0" fill="#8c8c8c"/></g>
<g transform="translate(417.0,327.9) rotate(1.5)"><rect x="-8.75" y="-3.8" width="17.5" height="7.6" rx="2.6" stroke="#151515" stroke-width="1.1" fill="#fff"/><rect x="-5.75" y="-1.5999999999999996" width="11.5" height="3.1999999999999993" rx="1.5" stroke="#262626" stroke-width="1.0" fill="#8c8c8c"/></g>
<g transform="translate(417.0,504.4) rotate(-1.5)"><rect x="-8.75" y="-3.8" width="17.5" height="7.6" rx="2.6" stroke="#151515" stroke-width="1.1" fill="#fff"/><rect x="-5.75" y="-1.5999999999999996" width="11.5" height="3.1999999999999993" rx="1.5" stroke="#262626" stroke-width="1.0" fill="#8c8c8c"/></g>
<g transform="translate(520.0,331.8) rotate(8)"><rect x="-8.75" y="-3.8" width="17.5" height="7.6" rx="2.6" stroke="#151515" stroke-width="1.1" fill="#fff"/><rect x="-5.75" y="-1.5999999999999996" width="11.5" height="3.1999999999999993" rx="1.5" stroke="#262626" stroke-width="1.0" fill="#8c8c8c"/></g>
<g transform="translate(520.0,500.5) rotate(-8)"><rect x="-8.75" y="-3.8" width="17.5" height="7.6" rx="2.6" stroke="#151515" stroke-width="1.1" fill="#fff"/><rect x="-5.75" y="-1.5999999999999996" width="11.5" height="3.1999999999999993" rx="1.5" stroke="#262626" stroke-width="1.0" fill="#8c8c8c"/></g>
<g transform="translate(612.8,350.2) rotate(16)"><rect x="-8.75" y="-3.8" width="17.5" height="7.6" rx="2.6" stroke="#151515" stroke-width="1.1" fill="#fff"/><rect x="-5.75" y="-1.5999999999999996" width="11.5" height="3.1999999999999993" rx="1.5" stroke="#262626" stroke-width="1.0" fill="#8c8c8c"/></g>
<g transform="translate(612.8,482.1) rotate(-16)"><rect x="-8.75" y="-3.8" width="17.5" height="7.6" rx="2.6" stroke="#151515" stroke-width="1.1" fill="#fff"/><rect x="-5.75" y="-1.5999999999999996" width="11.5" height="3.1999999999999993" rx="1.5" stroke="#262626" stroke-width="1.0" fill="#8c8c8c"/></g>
<g transform="translate(358.5,351.7) rotate(0)"><rect x="-8.75" y="-3.8" width="17.5" height="7.6" rx="2.6" stroke="#151515" stroke-width="1.1" fill="#fff"/><rect x="-5.75" y="-1.5999999999999996" width="11.5" height="3.1999999999999993" rx="1.5" stroke="#262626" stroke-width="1.0" fill="#8c8c8c"/></g>
<g transform="translate(358.5,480.6) rotate(0)"><rect x="-8.75" y="-3.8" width="17.5" height="7.6" rx="2.6" stroke="#151515" stroke-width="1.1" fill="#fff"/><rect x="-5.75" y="-1.5999999999999996" width="11.5" height="3.1999999999999993" rx="1.5" stroke="#262626" stroke-width="1.0" fill="#8c8c8c"/></g>
<g transform="translate(460.5,354.0) rotate(1)"><rect x="-8.75" y="-3.8" width="17.5" height="7.6" rx="2.6" stroke="#151515" stroke-width="1.1" fill="#fff"/><rect x="-5.75" y="-1.5999999999999996" width="11.5" height="3.1999999999999993" rx="1.5" stroke="#262626" stroke-width="1.0" fill="#8c8c8c"/></g>
<g transform="translate(460.5,478.3) rotate(-1)"><rect x="-8.75" y="-3.8" width="17.5" height="7.6" rx="2.6" stroke="#151515" stroke-width="1.1" fill="#fff"/><rect x="-5.75" y="-1.5999999999999996" width="11.5" height="3.1999999999999993" rx="1.5" stroke="#262626" stroke-width="1.0" fill="#8c8c8c"/></g>
<g transform="translate(551.4,362.8) rotate(10)"><rect x="-8.75" y="-3.8" width="17.5" height="7.6" rx="2.6" stroke="#151515" stroke-width="1.1" fill="#fff"/><rect x="-5.75" y="-1.5999999999999996" width="11.5" height="3.1999999999999993" rx="1.5" stroke="#262626" stroke-width="1.0" fill="#8c8c8c"/></g>
<g transform="translate(551.4,469.5) rotate(-10)"><rect x="-8.75" y="-3.8" width="17.5" height="7.6" rx="2.6" stroke="#151515" stroke-width="1.1" fill="#fff"/><rect x="-5.75" y="-1.5999999999999996" width="11.5" height="3.1999999999999993" rx="1.5" stroke="#262626" stroke-width="1.0" fill="#8c8c8c"/></g>
<path d="M176.4,344.3 L163.2,344.3 L163.2,416.1" stroke="#151515" stroke-width="1.68" />
<path d="M176.4,488.0 L163.2,488.0 L163.2,416.1" stroke="#151515" stroke-width="1.68" />
<path d="M163.3,374.7 L159.0,374.7 L159.0,416.1" stroke="#151515" stroke-width="2.4" />
<path d="M163.3,457.6 L159.0,457.6 L159.0,416.1" stroke="#151515" stroke-width="2.4" />
<path d="M212.4,354.2 L211.8,357.2 L211.8,416.1" stroke="#151515" stroke-width="1.56" />
<path d="M212.4,478.1 L211.8,475.1 L211.8,416.1" stroke="#151515" stroke-width="1.56" />
<path d="M217.6,475.79999999999995 L217.6,356.5 Q217.6,353.6 220.5,353.6 L256.4,353.6 Q259.6,353.6 259.6,356.8 L259.6,475.49999999999994 Q259.6,478.69999999999993 256.4,478.69999999999993 L220.5,478.69999999999993 Q217.6,478.69999999999993 217.6,475.79999999999995" stroke="#151515" stroke-width="1.68" />
<path d="M259.4,361.2 Q258.6,364.1 255.6,364.1 L231,364.1 Q227.6,364.1 227.6,367.6 L227.6,464.69999999999993 Q227.6,468.19999999999993 231,468.19999999999993 L255.6,468.19999999999993 Q258.6,468.19999999999993 259.4,471.09999999999997" stroke="#151515" stroke-width="1.68" />
<path d="M211.8,357.2 L217.5,354.2" stroke="#151515" stroke-width="1.32" />
<path d="M211.8,475.1 L217.5,478.1" stroke="#151515" stroke-width="1.32" />
<path d="M316,372.3 L301,372.3 Q295.6,372.6 294.2,378 Q290.6,395 290.3,416.15 Q290.6,437.29999999999995 294.2,454.29999999999995 Q295.6,459.69999999999993 301,459.99999999999994 L316,459.99999999999994 Q319.8,459.79999999999995 319.8,455.99999999999994 L319.8,452.99999999999994 Q319.8,449.19999999999993 316,449.19999999999993 L313,449.19999999999993 Q315.8,448.99999999999994 315.8,446.19999999999993 L315.8,386.1 Q315.8,383.3 313,383.1 L316,383.1 Q319.8,383.1 319.8,379.3 L319.8,376.3 Q319.8,372.3 316,372.3 Z" stroke="#151515" stroke-width="1.92" />
<path d="M316.4,377.2 L305,377.4 Q300.4,377.6 299.2,381.5 Q296,398 295.6,416.15 Q296,434.29999999999995 299.2,450.79999999999995 Q300.4,454.69999999999993 305,454.9 L316.4,455.09999999999997" stroke="#151515" stroke-width="1.68" />
<path d="M313,383.1 L307.8,383.1 Q305,383.3 305,386.1 L305,446.19999999999993 Q305,448.99999999999994 307.8,449.19999999999993 L313,449.19999999999993" stroke="#151515" stroke-width="1.68" />
<path d="M308.0,416.1 L315.8,416.1" stroke="#151515" stroke-width="1.8" />
<path d="M319.4,383.7 L336,383.7 Q338.6,383.9 338.6,386.5 L338.6,445.79999999999995 Q338.6,448.4 336,448.59999999999997 L319.4,448.59999999999997" stroke="#c4c4c4" stroke-width="0.8" stroke-dasharray="1.3 1.5"/>
<path d="M316.0,416.1 L338.6,416.1" stroke="#999" stroke-width="0.9" stroke-dasharray="4 1.5 1.2 1.5"/>
<ellipse cx="368.4" cy="391.1" rx="9.6" ry="15" stroke="#bdbdbd" stroke-width="0.9"/>
<ellipse cx="368.8" cy="391.1" rx="7.6" ry="12.6" stroke="#c6c6c6" stroke-width="0.8"/>
<ellipse cx="371" cy="392" rx="3.4" ry="5.6" stroke="#b5b5b5" stroke-width="0.8"/>
<path d="M366.0,380.0 L369.6,387.0" stroke="#bbbbbb" stroke-width="0.8" />
<path d="M373.0,397.0 L372.0,403.5" stroke="#bbbbbb" stroke-width="0.8" />
<path d="M374.2,390.5 L377.6,386.0" stroke="#bbbbbb" stroke-width="0.8" />
<rect x="358" y="409.4" width="18.4" height="12" rx="1.6" stroke="#bdbdbd" stroke-width="0.9" fill="none"/>
<path d="M361.6,409.4 L361.6,421.4" stroke="#c8c8c8" stroke-width="0.8" />
<path d="M443.2,385 Q442.6,377.3 435,377.1 L374,377.1 Q366.3,377.3 366.3,385 L366.3,447.29999999999995 Q366.3,454.99999999999994 374,455.19999999999993 L435,455.19999999999993 Q442.6,454.99999999999994 443.2,447.29999999999995" stroke="#151515" stroke-width="1.8" />
<path d="M374.6,381.8 L434.0,381.8 L436.6,382.8 L437.4,385.0" stroke="#151515" stroke-width="1.56" />
<path d="M374.6,450.5 L434.0,450.5 L436.6,449.5 L437.4,447.3" stroke="#151515" stroke-width="1.56" />
<path d="M380.4,381.8 L380.4,450.5" stroke="#151515" stroke-width="1.44" />
<path d="M390.4,381.8 L390.4,450.5" stroke="#151515" stroke-width="1.8" />
<path d="M403.5,381.8 L408.5,402.2 L408.5,430.3 L404.0,450.6" stroke="#151515" stroke-width="1.56" />
<path d="M423.6,382.6 C424.2,384.8 426.4,390.4 427.4,396.0 C428.4,401.6 429.4,409.4 429.4,416.1 C429.4,422.9 428.4,430.7 427.4,436.3 C426.4,441.9 424.2,447.6 423.6,449.8" stroke="#151515" stroke-width="1.56" />
<path d="M427.6,382.6 C428.2,384.8 430.4,390.4 431.4,396.0 C432.4,401.6 433.4,409.4 433.4,416.1 C433.4,422.9 432.4,430.7 431.4,436.3 C430.4,441.9 428.2,447.6 427.6,449.8" stroke="#151515" stroke-width="1.56" />
<rect x="437.3" y="385.1" width="7" height="62.1" rx="3.2" stroke="#151515" stroke-width="1.4" fill="none"/>
<path d="M444.2,384.2 L455,384.2 Q466.4,385 468.2,400 Q469.4,416.15 468.2,432.29999999999995 Q466.4,447.29999999999995 455,448.09999999999997 L444.2,448.09999999999997" stroke="#151515" stroke-width="1.68" />
<path d="M494.4,362 L494.4,378 Q494.6,384 500.6,384.6 L505,385 Q510.6,386 512.6,393.5 Q515.2,404 515.5,414.2" stroke="#151515" stroke-width="1.68" />
<path d="M494.4,470.29999999999995 L494.4,454.29999999999995 Q494.6,448.29999999999995 500.6,447.69999999999993 L505,447.29999999999995 Q510.6,446.29999999999995 512.6,438.79999999999995 Q515.2,428.29999999999995 515.5,418.09999999999997" stroke="#151515" stroke-width="1.68" />
<path d="M515.5,414.2 L518.3,414.2" stroke="#151515" stroke-width="1.2" />
<path d="M515.5,418.1 L518.3,418.1" stroke="#151515" stroke-width="1.2" />
<path d="M518.5,416.15 Q518.8,404 521,392 L524.6,377.6 Q526.4,371 532.4,371.6 Q590,386 648,401.4 Q654.5,403.4 654.5,409.4 L654.5,422.9 Q654.5,428.9 648,430.9 Q590,446.29999999999995 532.4,460.69999999999993 Q526.4,461.29999999999995 524.6,454.69999999999993 L521,440.29999999999995 Q518.8,428.29999999999995 518.5,416.15" stroke="#151515" stroke-width="1.68" />
<path d="M521.5,416.15 Q521.8,404 523.8,393 L527,379.6 Q528.4,374.6 533.0,375.2 Q590,389.4 646.0,404.4 Q651.5,405.8 651.5,410.4 L651.5,421.9 Q651.5,426.49999999999994 646.0,427.9 Q590,442.9 533.0,457.09999999999997 Q528.4,457.69999999999993 527,452.69999999999993 L523.8,439.29999999999995 Q521.8,428.29999999999995 521.5,416.15" stroke="#b4b4b4" stroke-width="0.9" stroke-dasharray="1.3 1.3"/>
<path d="M523.9,416.15 Q524.1999999999999,404 526.1999999999999,393 L529.4,380.8 Q530.8,377.0 534.44,377.59999999999997 Q590,391.79999999999995 645.28,406.79999999999995 Q649.1,408.2 649.1,411.59999999999997 L649.1,420.7 Q649.1,424.09999999999997 645.28,425.5 Q590,440.5 534.44,454.7 Q530.8,455.29999999999995 529.4,451.49999999999994 L526.1999999999999,439.29999999999995 Q524.1999999999999,428.29999999999995 523.9,416.15" stroke="#d0d0d0" stroke-width="0.9" stroke-dasharray="1.3 1.3"/>
<path d="M526.1,416.15 Q526.4,404 528.4,393 L531.6,381.90000000000003 Q533.0,379.20000000000005 535.76,379.8 Q590,394.0 644.62,409.0 Q646.9,410.40000000000003 646.9,412.7 L646.9,419.59999999999997 Q646.9,421.8999999999999 644.62,423.29999999999995 Q590,438.29999999999995 535.76,452.49999999999994 Q533.0,453.0999999999999 531.6,450.3999999999999 L528.4,439.29999999999995 Q526.4,428.29999999999995 526.1,416.15" stroke="#dadada" stroke-width="0.8" />
<path d="M288.0,369.9 L414.6,369.9" stroke="#d6d6d6" stroke-width="0.7" stroke-dasharray="1.3 1.3"/>
<path d="M288.0,462.4 L414.6,462.4" stroke="#d6d6d6" stroke-width="0.7" stroke-dasharray="1.3 1.3"/>
<path d="M359.0,321.6 L359.0,339.0" stroke="#cccccc" stroke-width="0.7" stroke-dasharray="1.3 1.3"/>
<path d="M359.0,510.7 L359.0,493.3" stroke="#cccccc" stroke-width="0.7" stroke-dasharray="1.3 1.3"/>
<path d="M521.5,336.0 L521.5,360.0" stroke="#cccccc" stroke-width="0.7" stroke-dasharray="1.3 1.3"/>
<path d="M521.5,496.3 L521.5,472.3" stroke="#cccccc" stroke-width="0.7" stroke-dasharray="1.3 1.3"/>
</svg>
</body></html>
